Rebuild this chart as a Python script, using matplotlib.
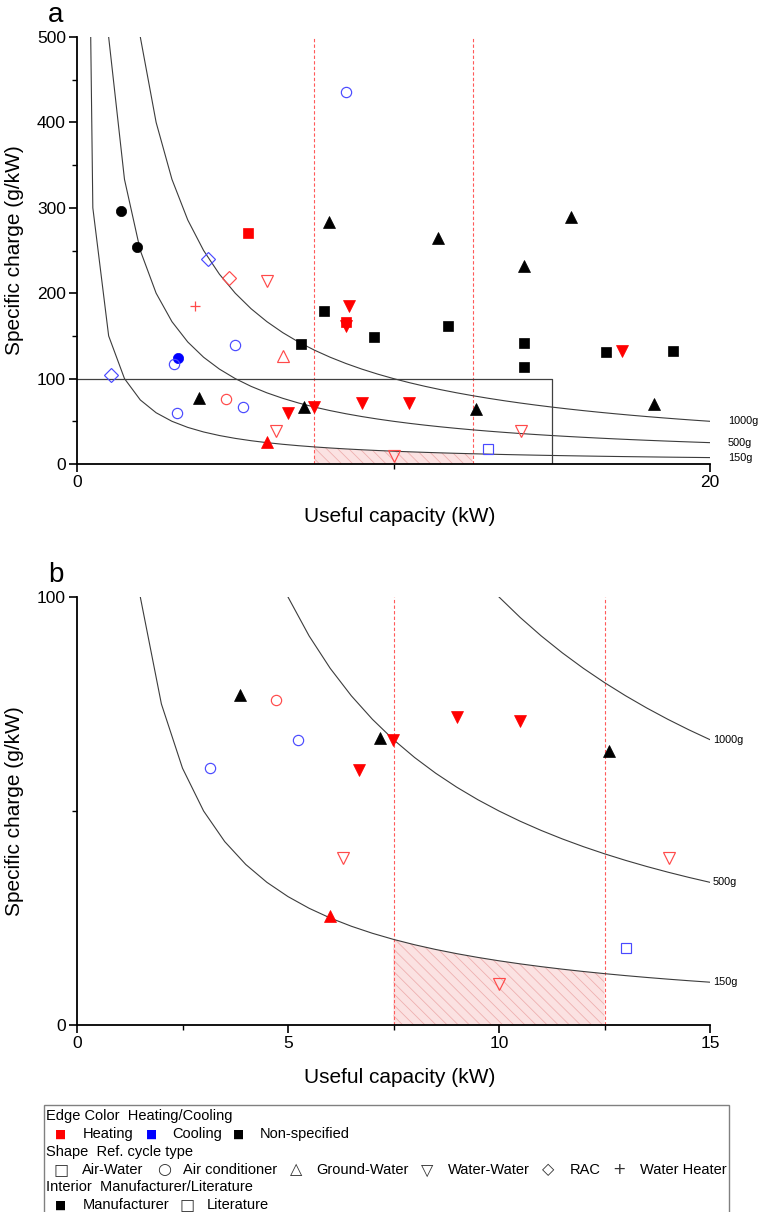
import matplotlib

matplotlib.use("Agg")
import matplotlib.pyplot as plt
import numpy as np
from matplotlib.patches import Rectangle

plt.rcParams["font.family"] = ["Liberation Sans", "DejaVu Sans"]
plt.rcParams["hatch.linewidth"] = 0.6

# one entry per heat pump: capacity (kW), specific charge (g/kW),
# duty (H heating, C cooling, N non-specified), cycle type, data source
capacity = [
    1.39, 1.90, 8.50, 5.40, 7.96, 11.41, 15.61, 14.12, 4.14, 4.80,
    6.00, 3.73, 7.80, 8.59, 8.50, 8.50, 9.38, 11.72, 14.12, 14.12,
    16.71, 17.22, 18.83, 7.08, 4.99, 6.50, 3.19, 3.06, 1.07, 3.86,
    4.72, 5.24, 3.15, 7.18, 7.49, 6.68, 9.00, 10.50, 12.60, 18.23,
    6.30, 14.03, 6.00, 13.00, 10.00,
]
specific_charge = [
    296, 254, 436, 270, 283, 265, 289, 232, 240, 218,
    214, 185, 179, 185, 166, 162, 149, 162, 142, 114,
    131, 132, 132, 140, 139, 126, 124, 117, 104, 77,
    76, 66.5, 60, 67, 66.5, 59.5, 72, 71, 64, 70,
    39, 39, 25.5, 18, 9.5,
]
duty = [
    "N", "N", "C", "H", "N", "N", "N", "N", "C", "H",
    "H", "H", "N", "H", "H", "H", "N", "N", "N", "N",
    "N", "H", "N", "N", "C", "H", "C", "C", "C", "N",
    "H", "C", "C", "N", "H", "H", "H", "H", "N", "N",
    "H", "H", "H", "C", "H",
]
cycle = [
    "AC", "AC", "AC", "AW", "GW", "GW", "GW", "GW", "RAC", "RAC",
    "WW", "WH", "AW", "WW", "AW", "WW", "AW", "AW", "AW", "AW",
    "AW", "WW", "AW", "AW", "AC", "GW", "AC", "AC", "RAC", "GW",
    "AC", "AC", "AC", "GW", "WW", "WW", "WW", "WW", "GW", "GW",
    "WW", "WW", "GW", "AW", "WW",
]
source = [
    "M", "M", "L", "M", "M", "M", "M", "M", "L", "L",
    "L", "L", "M", "M", "M", "M", "M", "M", "M", "M",
    "M", "M", "M", "M", "L", "L", "M", "L", "L", "M",
    "L", "L", "L", "M", "M", "M", "M", "M", "M", "M",
    "L", "L", "M", "L", "L",
]

iso_charge = [150, 500, 1000]
iso_labels = ["150g", "500g", "1000g"]
capacity_band = (7.5, 12.5)
target_charge = 150
zoom_limits = (15, 100)

DUTY_COLOR = {"H": "#ff0000", "C": "#0000ff", "N": "#000000"}
OPEN_COLOR = {"H": "#ff4a4a", "C": "#4a4aff", "N": "#333333"}
CYCLE_MARKER = {
    "AW": ("s", 6.8),
    "AC": ("o", 7.4),
    "GW": ("^", 8.4),
    "WW": ("v", 8.4),
    "RAC": ("D", 7.2),
    "WH": ("+", 7.4),
}

W, H = 758, 1212


def fx(px):
    return px / W


def fy(py):
    return 1 - py / H


def draw_panel(ax, xmax, ymax, xticks, xminor, yticks, yminor, label_offset):
    grid = np.concatenate([[0.1], np.arange(0.5, xmax + 0.01, 0.5)])
    for charge, text in zip(iso_charge, iso_labels):
        ax.plot(grid, charge / grid, color="#3c3c3c", lw=0.8, zorder=2)
        ax.annotate(text, (xmax, charge / xmax), xytext=(label_offset, 0),
                    textcoords="offset points", fontsize=7.8, va="center",
                    ha="left", annotation_clip=False)

    lo, hi = capacity_band
    band = grid[(grid >= lo) & (grid <= hi)]
    ax.fill_between(band, 0, target_charge / band, facecolor="#fbe2e2",
                    edgecolor="#eeb0b0", hatch="\\\\\\", lw=0, zorder=1)
    for xv in capacity_band:
        ax.axvline(xv, color="#ff5a5a", lw=0.8, ls=(0, (3, 2)), zorder=1.5)

    for x, y, d, c, s in zip(capacity, specific_charge, duty, cycle, source):
        marker, size = CYCLE_MARKER[c]
        if c == "WH":
            ax.plot(x, y, marker=marker, ms=size, color=OPEN_COLOR[d],
                    mew=0.9, zorder=4)
        elif s == "M":
            color = DUTY_COLOR[d]
            ax.plot(x, y, marker=marker, ms=size, mfc=color, mec=color,
                    mew=0.5, ls="none", zorder=4)
        else:
            ax.plot(x, y, marker=marker, ms=size, mfc="none",
                    mec=OPEN_COLOR[d], mew=0.85, ls="none", zorder=4)

    ax.set_xlim(0, xmax)
    ax.set_ylim(0, ymax)
    ax.spines[["top", "right"]].set_visible(False)
    for side in ("left", "bottom"):
        ax.spines[side].set_linewidth(1.3)
    ax.set_xticks(xticks)
    ax.set_xticks(xminor, minor=True)
    ax.set_yticks(yticks)
    ax.set_yticks(yminor, minor=True)
    ax.tick_params(which="major", direction="out", length=6, width=1.2,
                   labelsize=12.5, pad=2)
    ax.tick_params(which="minor", direction="out", length=3.5, width=1.0)
    ax.set_xlabel("Useful capacity (kW)", fontsize=15)
    ax.set_ylabel("Specific charge (g/kW)", fontsize=15)
    ax.xaxis.set_label_coords(0.51, -0.10)
    ax.yaxis.set_label_coords(-0.083, 0.5)


fig = plt.figure(figsize=(W / 100, H / 100), dpi=100)

ax_top = fig.add_axes([fx(77), fy(464), fx(633), 427 / H])
draw_panel(ax_top, 20, 500, [0, 20], [10], list(range(0, 501, 100)),
           list(range(50, 500, 100)), 13)
zx, zy = zoom_limits
ax_top.plot([0, zx, zx], [zy, zy, 0], color="#404040", lw=0.9, zorder=2)

ax_bot = fig.add_axes([fx(77), fy(1025), fx(633), 428 / H])
draw_panel(ax_bot, zx, zy, [0, 5, 10, 15], [2.5, 7.5, 12.5], [0, 100], [50], 2)

fig.text(fx(56), fy(22), "a", fontsize=20, ha="center", va="baseline")
fig.text(fx(56), fy(582), "b", fontsize=20, ha="center", va="baseline")

# legend block
fig.add_artist(Rectangle((fx(44), -0.01), fx(729 - 44), fy(1105) + 0.01,
                         transform=fig.transFigure, fill=False,
                         edgecolor="#808080", lw=1.0))
legend_size = 10.5
rows = [
    (1116, [("text", 46, "Edge Color  Heating/Cooling", "black")]),
    (1134, [("sq", 61, "■", "#ff0000"), ("text", 83, "Heating", "black"),
            ("sq", 152, "■", "#0000ff"), ("text", 172, "Cooling", "black"),
            ("sq", 239, "■", "black"), ("text", 260, "Non-specified", "black")]),
    (1152, [("text", 46, "Shape  Ref. cycle type", "black")]),
    (1170, [("sym", 61, "□", "#333333"), ("text", 82, "Air-Water", "black"),
            ("sym", 164, "○", "#333333"), ("text", 183, "Air conditioner", "black"),
            ("sym", 296, "△", "#333333"), ("text", 316, "Ground-Water", "black"),
            ("sym", 427, "▽", "#333333"), ("text", 448, "Water-Water", "black"),
            ("sym", 548, "◇", "#333333"), ("text", 570, "RAC", "black"),
            ("sym", 619, "+", "#333333"), ("text", 640, "Water Heater", "black")]),
    (1187, [("text", 46, "Interior  Manufacturer/Literature", "black")]),
    (1205, [("sq", 61, "■", "black"), ("text", 83, "Manufacturer", "black"),
            ("sym", 187, "□", "#333333"), ("text", 207, "Literature", "black")]),
]
for py, items in rows:
    for kind, px, text, color in items:
        if kind == "text":
            fig.text(fx(px), fy(py), text, fontsize=legend_size, color=color,
                     ha="left", va="center")
        elif kind == "sq":
            fig.text(fx(px), fy(py), text, fontsize=8.5, color=color,
                     family="DejaVu Sans", ha="center", va="center")
        else:
            fig.text(fx(px), fy(py), text, fontsize=11.5, color=color,
                     family="DejaVu Sans", ha="center", va="center")

fig.savefig("out.png", dpi=100)
